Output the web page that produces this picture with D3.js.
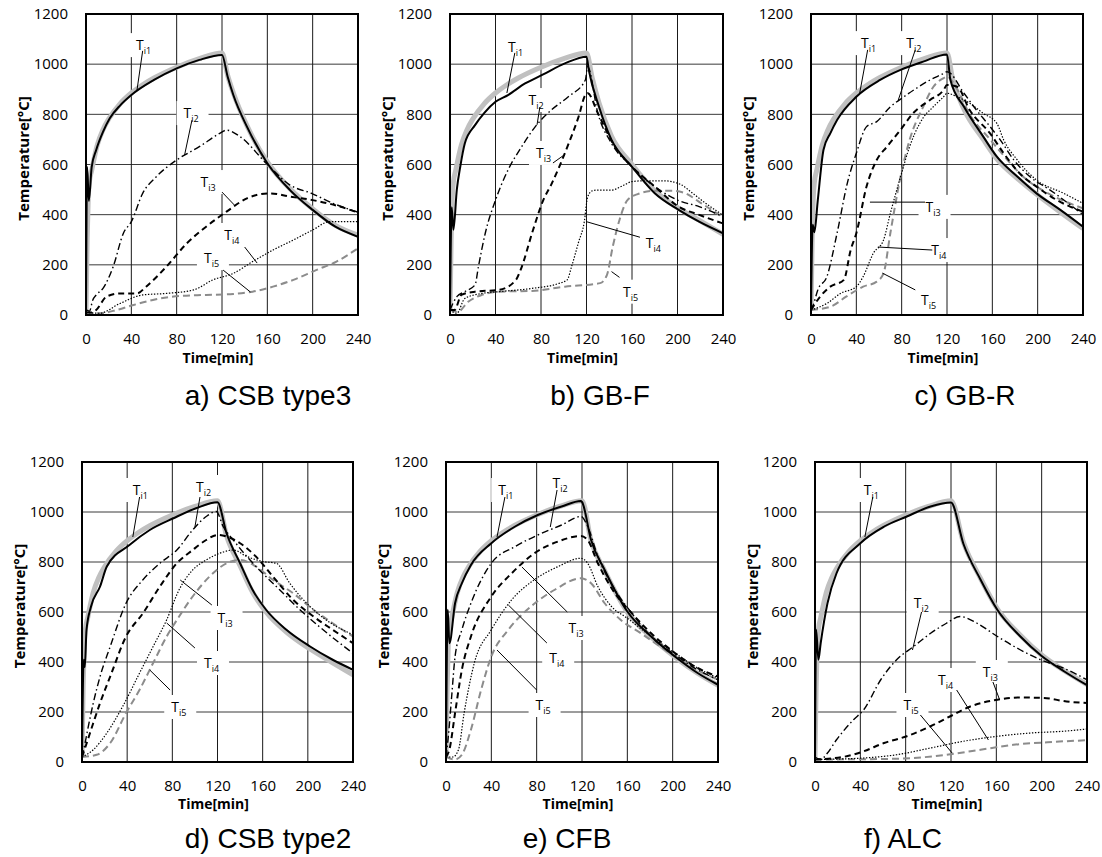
<!DOCTYPE html>
<html><head><meta charset="utf-8">
<script src="https://cdn.jsdelivr.net/npm/d3@7"></script>
<style>body{margin:0;background:#fff}svg{display:block}</style>
</head><body><svg id="chart" width="1102" height="857"></svg>
<script>
// ---------- tick labels / categories ----------
const xTicks = [0, 40, 80, 120, 160, 200, 240];
const yTicks = [0, 200, 400, 600, 800, 1000, 1200];
const captions = ["a) CSB type3", "b) GB-F", "c) GB-R", "d) CSB type2", "e) CFB", "f) ALC"];
const subNames = ["i1", "i2", "i3", "i4", "i5"];

// ---------- standard furnace curve (heating part, shared) ----------
const isoHeat = [[0,20],[1,300],[2,470],[3,530],[5,576],[10,678],[15,739],[20,781],[30,842],[40,885],[50,918],[60,945],[80,988],[100,1022],[120,1045]];

// ---------- a) CSB type3 ----------
const a_grayCool = [[125,955],[130,885],[142,755],[160,610],[180,503],[200,423],[220,357],[240,318]];
const a_Ti1 = [[0,20],[1,590],[2.5,455],[5,590],[9,658],[15,730],[21,784],[30,835],[40,877],[60,937],[80,983],[100,1017],[120,1037],[125,950],[130,877],[142,751],[160,605],[180,498],[200,419],[220,352],[240,312]];
const a_Ti2 = [[0,20],[3,15],[6,60],[9,80],[15,106],[24,193],[33,326],[40,372],[50,485],[62,551],[80,618],[100,671],[118,724],[124,737],[136,711],[159,605],[180,518],[199,485],[218,445],[240,410]];
const a_Ti3 = [[0,10],[5,10],[9,20],[18,73],[30,86],[45,86],[53,113],[71,193],[89,286],[106,352],[124,412],[142,465],[162,485],[180,472],[200,458],[218,440],[240,408]];
const a_Ti4 = [[0,10],[12,7],[30,46],[50,80],[71,86],[95,100],[112,140],[130,166],[147,213],[165,259],[183,299],[200,339],[215,372],[240,372]];
const a_Ti5 = [[0,10],[12,7],[27,20],[42,40],[59,60],[83,76],[106,80],[130,84],[147,93],[165,113],[183,140],[203,179],[221,213],[240,266]];
const a_labelAt = [[52,1076],[94,805],[109,530],[130,319],[112,227]];
const a_leaders = [[50,1053,45,897],[93.5,777,87,638],[120,490,131,438],[140,271,151,207],[121,179,145,92]];

// ---------- b) GB-F ----------
const b_grayCool = [[125,945],[131,845],[142,712],[160,600],[180,495],[200,428],[220,375],[240,322]];
const b_Ti1 = [[0,20],[1.5,430],[3,340],[6,500],[9,591],[13,684],[22,757],[30,805],[40,850],[51,877],[66,923],[81,957],[101,1003],[120,1030],[122,977],[131,830],[142,698],[160,591],[180,485],[201,419],[219,372],[240,326]];
const b_Ti2 = [[0,20],[6,73],[13,93],[22,120],[25,193],[31,326],[40,458],[51,578],[63,671],[75,751],[89,817],[104,870],[119,937],[121,990],[130,804],[142,684],[160,591],[180,512],[200,458],[219,432],[240,392]];
const b_Ti3 = [[0,20],[4,20],[10,80],[22,93],[43,100],[58,140],[62,179],[73,339],[82,458],[89,520],[104,680],[113,790],[119,877],[121,884],[130,804],[145,671],[160,591],[180,512],[201,432],[219,399],[240,365]];
const b_Ti4 = [[0,20],[6,7],[13,66],[28,86],[43,93],[72,106],[95,125],[103,140],[107,195],[113,290],[118,370],[121,470],[125,495],[130,498],[142,498],[153,518],[160,532],[171,535],[188,535],[203,520],[212,490],[224,448],[240,398]];
const b_Ti5 = [[0,20],[7,13],[16,53],[28,80],[43,93],[72,96],[101,113],[132,127],[138,160],[143,271],[149,379],[156,458],[165,482],[180,495],[195,495],[206,487],[220,448],[240,390]];
const b_labelAt = [[59,1069],[77,857],[83.5,646],[180,287],[160,93]];
const b_leaders = [[57,1045,50,885],[79,829,76.5,758],[90.5,606,101,640],[167,310,120,372],[149,150,142,173]];

// ---------- c) GB-R ----------
const c_grayCool = [[125,940],[135,820],[152,700],[164,622],[182,545],[200,478],[220,410],[240,345]];
const c_Ti1 = [[0,20],[1.5,360],[3,330],[6,458],[11,658],[17,724],[23,777],[40,870],[61,937],[79,977],[99,1010],[120,1039],[123,937],[135,830],[152,711],[164,631],[182,552],[199,485],[220,419],[240,352]];
const c_Ti2 = [[0,20],[2,40],[6,100],[14,153],[23,326],[32,525],[40,645],[49,751],[58,771],[70,830],[82,870],[93,904],[105,937],[117,963],[120,970],[135,884],[146,817],[158,751],[167,698],[179,618],[193,552],[211,498],[240,400]];
const c_Ti3 = [[0,20],[8,73],[17,113],[29,140],[35,259],[40,326],[49,512],[58,618],[67,671],[79,738],[90,804],[105,857],[117,897],[120,917],[129,910],[140,817],[158,724],[170,645],[184,565],[199,512],[217,458],[240,412]];
const c_Ti4 = [[0,20],[14,46],[26,86],[40,113],[46,153],[55,246],[64,299],[70,405],[79,551],[87,671],[96,764],[102,804],[105,817],[111,844],[117,870],[120,884],[129,870],[140,844],[152,804],[164,764],[170,698],[182,618],[199,538],[223,485],[240,445]];
const c_Ti5 = [[0,20],[17,33],[31,73],[46,113],[58,133],[64,166],[70,326],[79,551],[87,698],[99,830],[108,910],[117,944],[120,950],[129,900],[140,800],[158,700],[173,620],[188,548],[205,495],[223,455],[240,425]];
const c_labelAt = [[52,1084],[92,1084],[109,431],[114,259],[105,60]];
const c_leaders = [[50,1057,43,885],[92,1057,77,857],[100.6,450,52,450],[107,259,59,271],[92,100,63,167]];

// ---------- d) CSB type2 ----------
const d_grayCool = [[128,905],[140,785],[151,680],[163,600],[181,520],[202,452],[222,397],[240,349]];
const d_Ti1 = [[0,20],[1.5,409],[2.5,380],[4,529],[8,622],[16,702],[22,782],[42,868],[60,928],[81,975],[101,1015],[120,1039],[128,915],[140,795],[151,689],[163,609],[181,529],[202,462],[222,409],[240,369]];
const d_Ti2 = [[0,20],[2,60],[5,129],[10,236],[16,342],[25,462],[39,635],[54,729],[69,795],[84,848],[98,928],[110,982],[119,1002],[125,942],[134,888],[146,822],[160,755],[175,689],[193,609],[210,542],[240,435]];
const d_Ti3 = [[0,20],[3,60],[10,156],[16,236],[25,342],[39,502],[54,595],[69,702],[84,795],[98,848],[110,888],[120,908],[128,902],[140,875],[154,822],[169,742],[187,649],[205,582],[222,529],[240,475]];
const d_Ti4 = [[0,20],[10,49],[22,116],[36,222],[51,356],[63,462],[75,569],[86,689],[98,768],[110,808],[122,835],[134,848],[146,822],[160,802],[172,795],[184,715],[199,635],[216,569],[240,509]];
const d_Ti5 = [[0,20],[13,29],[25,76],[39,196],[51,289],[63,396],[75,502],[86,582],[98,662],[113,742],[128,795],[140,808],[154,782],[169,729],[187,675],[205,609],[222,555],[240,502]];
const d_labelAt = [[53,1088],[109,1100],[128,576],[116,396],[87,220]];
const d_leaders = [[51,1060,45,900],[104.5,1060,100,940],[115,628,87,728],[100,456,75,556],[78,288,60,368]];

// ---------- e) CFB ----------
const e_grayCool = [[128,885],[140,765],[160,600],[181,500],[202,420],[222,355],[240,307]];
const e_Ti1 = [[0,20],[1.5,609],[3,475],[8,635],[14,715],[22,788],[40,875],[61,942],[81,988],[102,1022],[119,1044],[120,1040],[128,888],[140,768],[160,602],[181,502],[202,422],[222,356],[240,309]];
const e_Ti2 = [[0,20],[2,100],[5,262],[8,422],[14,529],[22,635],[40,795],[61,862],[81,908],[102,948],[119,982],[125,942],[134,822],[149,689],[164,595],[181,502],[202,429],[222,369],[240,329]];
const e_Ti3 = [[0,20],[3,50],[8,196],[14,369],[22,502],[40,662],[58,755],[78,835],[99,882],[119,904],[125,888],[134,795],[149,675],[164,595],[181,515],[202,436],[222,376],[240,342]];
const e_Ti4 = [[0,20],[6,20],[11,49],[16,196],[25,396],[40,529],[58,649],[78,729],[99,782],[119,815],[125,795],[134,702],[146,622],[160,575],[181,502],[202,436],[222,376],[240,336]];
const e_Ti5 = [[0,20],[8,10],[14,29],[22,129],[31,289],[40,422],[55,529],[75,622],[96,689],[119,735],[128,715],[140,635],[154,569],[172,515],[193,449],[216,382],[240,329]];
const e_labelAt = [[54,1088],[102,1116],[116,536],[99,416],[87,228]];
const e_leaders = [[52,1060,45,900],[98,1088,92,940],[107,600,67,780],[89,476,55,628],[80,288,45,448]];

// ---------- f) ALC ----------
const f_grayCool = [[131,878],[146,735],[161,612],[181,508],[200,428],[220,365],[240,310]];
const f_Ti1 = [[0,20],[1,529],[3,409],[5,475],[11,635],[19,755],[40,875],[61,942],[81,982],[102,1022],[120,1038],[131,872],[146,730],[161,608],[181,503],[200,424],[220,362],[240,307]];
const f_Ti2 = [[0,20],[5,10],[11,36],[19,89],[34,169],[43,209],[58,329],[72,409],[87,462],[102,515],[116,555],[128,582],[143,555],[161,502],[181,449],[199,409],[219,376],[240,329]];
const f_Ti3 = [[0,10],[28,23],[43,43],[61,76],[81,103],[102,143],[119,182],[137,222],[161,249],[181,258],[202,256],[222,242],[240,236]];
const f_Ti4 = [[0,10],[43,16],[72,29],[102,56],[131,83],[161,103],[190,116],[219,123],[240,132]];
const f_Ti5 = [[0,10],[58,12],[87,16],[116,29],[146,49],[175,69],[205,79],[240,87]];
const f_labelAt = [[51,1088],[95,636],[156,360],[116.5,328],[86,228]];
const f_leaders = [[51,1060,44,900],[94,600,86,448],[157,320,163,248],[125,288,153,88],[93,188,121,36]];

// ---------- layout (pixels) ----------
const panels = [
  {box:[86,14,272,301],  cap:[268,405], tY:363, gray:isoHeat.concat(a_grayCool), s:[a_Ti1,a_Ti2,a_Ti3,a_Ti4,a_Ti5], lab:a_labelAt, lead:a_leaders},
  {box:[450,14,273,301], cap:[600,405], tY:363, gray:isoHeat.concat(b_grayCool), s:[b_Ti1,b_Ti2,b_Ti3,b_Ti4,b_Ti5], lab:b_labelAt, lead:b_leaders},
  {box:[811,14,272,301], cap:[965,405], tY:363, gray:isoHeat.concat(c_grayCool), s:[c_Ti1,c_Ti2,c_Ti3,c_Ti4,c_Ti5], lab:c_labelAt, lead:c_leaders},
  {box:[82,462,271,300], cap:[268,848], tY:809, gray:isoHeat.concat(d_grayCool), s:[d_Ti1,d_Ti2,d_Ti3,d_Ti4,d_Ti5], lab:d_labelAt, lead:d_leaders},
  {box:[446,462,272,300],cap:[567,848], tY:809, gray:isoHeat.concat(e_grayCool), s:[e_Ti1,e_Ti2,e_Ti3,e_Ti4,e_Ti5], lab:e_labelAt, lead:e_leaders},
  {box:[815,462,272,300],cap:[903,848], tY:809, gray:isoHeat.concat(f_grayCool), s:[f_Ti1,f_Ti2,f_Ti3,f_Ti4,f_Ti5], lab:f_labelAt, lead:f_leaders}
];

const styles = [
  {stroke:"#000", w:2,   dash:null},
  {stroke:"#000", w:1.4, dash:"7,3,1.5,3"},
  {stroke:"#000", w:2,   dash:"6,4"},
  {stroke:"#000", w:1.2, dash:"1.4,1.6"},
  {stroke:"#8c8c8c", w:2, dash:"7,4"}
];

const svg = d3.select("#chart");
const tickFont = "'Open Sans', 'Noto Sans', sans-serif";

panels.forEach((p, i) => {
  const [L, T, W, H] = p.box;
  const x = d3.scaleLinear().domain([0, 240]).range([L, L + W]);
  const y = d3.scaleLinear().domain([0, 1200]).range([T + H, T]);
  const g = svg.append("g");
  const clipId = "clip" + i;
  g.append("clipPath").attr("id", clipId).append("rect").attr("x", L).attr("y", T).attr("width", W).attr("height", H);

  // grid
  g.append("g").selectAll("line").data(yTicks.slice(1, -1)).join("line")
    .attr("x1", L).attr("x2", L + W).attr("y1", d => y(d)).attr("y2", d => y(d))
    .attr("stroke", "#3a3a3a").attr("stroke-width", 1);
  g.append("g").selectAll("line").data(xTicks.slice(1, -1)).join("line")
    .attr("y1", T).attr("y2", T + H).attr("x1", d => x(d)).attr("x2", d => x(d))
    .attr("stroke", "#1a1a1a").attr("stroke-width", 1);

  // axes (labels only, via d3 axis)
  const fmt = d3.format("d");
  const yAx = g.append("g").attr("transform", `translate(${L - 12},0)`)
    .call(d3.axisLeft(y).tickValues(yTicks).tickFormat(fmt).tickSize(0).tickPadding(6));
  const xAx = g.append("g").attr("transform", `translate(0,${T + H + 14})`)
    .call(d3.axisBottom(x).tickValues(xTicks).tickFormat(fmt).tickSize(0).tickPadding(4));
  [yAx, xAx].forEach(a => {
    a.select(".domain").remove();
    a.selectAll("text").attr("font-family", tickFont).attr("font-size", 15).attr("fill", "#000");
  });

  // label white boxes
  g.append("g").selectAll("rect").data(p.lab).join("rect")
    .attr("x", d => x(d[0]) - 16).attr("y", d => y(d[1]) - 12)
    .attr("width", 32).attr("height", 24).attr("fill", "#fff");

  // series
  const line = d3.line().x(d => x(d[0])).y(d => y(d[1])).curve(d3.curveMonotoneX);
  const cg = g.append("g").attr("clip-path", `url(#${clipId})`);
  cg.append("path").datum(p.gray).attr("d", line).attr("fill", "none")
    .attr("stroke", "#c0c0c0").attr("stroke-width", 5).attr("stroke-linejoin", "round");
  [4, 3, 2, 1, 0].forEach(k => {
    const st = styles[k];
    cg.append("path").datum(p.s[k]).attr("d", line).attr("fill", "none")
      .attr("stroke", st.stroke).attr("stroke-width", st.w)
      .attr("stroke-dasharray", st.dash).attr("stroke-linejoin", "round");
  });

  // frame
  g.append("rect").attr("x", L).attr("y", T).attr("width", W).attr("height", H)
    .attr("fill", "none").attr("stroke", "#000").attr("stroke-width", 2);

  // leaders
  g.append("g").selectAll("line").data(p.lead).join("line")
    .attr("x1", d => x(d[0])).attr("y1", d => y(d[1]))
    .attr("x2", d => x(d[2])).attr("y2", d => y(d[3]))
    .attr("stroke", "#000").attr("stroke-width", 1);

  // labels
  const lt = g.append("g").selectAll("text").data(p.lab).join("text")
    .attr("x", d => x(d[0]) - 9).attr("y", d => y(d[1]) + 5)
    .attr("font-family", tickFont).attr("font-size", 14).attr("fill", "#000");
  lt.append("tspan").text("T");
  lt.append("tspan").attr("font-size", 9).attr("dy", 4).text((d, k) => subNames[k]);

  // axis titles
  g.append("text").attr("transform", `translate(${L - 57},${T + H / 2 - 6}) rotate(-90)`)
    .attr("text-anchor", "middle").attr("font-family", tickFont).attr("font-weight", "bold")
    .attr("font-size", 15).text("Temperature[°C]");
  g.append("text").attr("x", L + W / 2 - 4).attr("y", p.tY).attr("text-anchor", "middle")
    .attr("font-family", tickFont).attr("font-weight", "bold").attr("font-size", 14).text("Time[min]");

  // caption
  g.append("text").attr("x", p.cap[0]).attr("y", p.cap[1]).attr("text-anchor", "middle")
    .attr("font-family", "'Liberation Sans', Arial, sans-serif").attr("font-size", 28)
    .text(captions[i]);
});
</script></body></html>
